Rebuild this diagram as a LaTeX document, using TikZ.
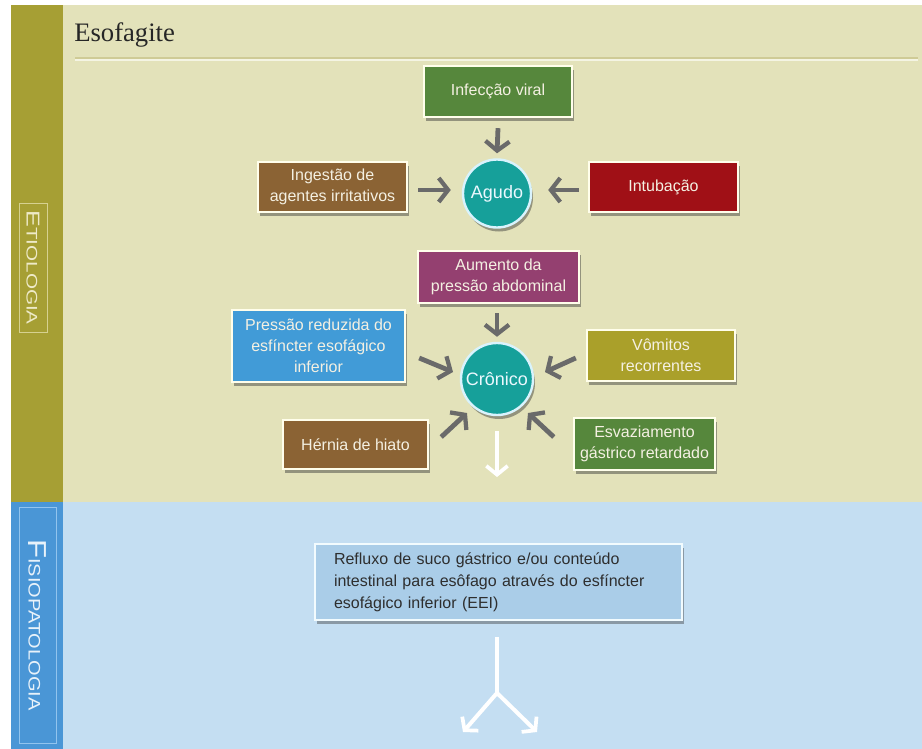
\documentclass[tikz,border=0pt]{standalone}
\usepackage{fontspec}
\usepackage{graphicx}
\setmainfont{Liberation Sans}
\newfontfamily\titlefont{Liberation Serif}
\usetikzlibrary{arrows.meta,shadows,calc}
\definecolor{beigebg}{HTML}{E3E2BA}
\definecolor{olivebar}{HTML}{A69F34}
\definecolor{bluebg}{HTML}{C4DEF2}
\definecolor{bluebar}{HTML}{4A96D6}
\definecolor{titleline}{HTML}{CFCB96}
\definecolor{etioframe}{HTML}{D6D190}
\definecolor{etiotext}{HTML}{EEEAC8}
\definecolor{fisioframe}{HTML}{92C4EE}
\definecolor{fisiotext}{HTML}{E8F2FA}
\definecolor{boxtext}{HTML}{F4F0E2}
\definecolor{cgreen}{HTML}{56873C}
\definecolor{cbrown}{HTML}{8B6334}
\definecolor{cred}{HTML}{A01016}
\definecolor{cpurple}{HTML}{944070}
\definecolor{clblue}{HTML}{419BD7}
\definecolor{colive}{HTML}{AAA02A}
\definecolor{cteal}{HTML}{16A09A}
\definecolor{crefl}{HTML}{AACDE8}
\definecolor{arrowgray}{HTML}{6A6A6A}
\tikzset{
  cbox/.style={draw=white!92!yellow, line width=1.8pt, text=boxtext,
    font=\fontsize{12}{15.75}\selectfont, align=center, inner sep=0pt,
    drop shadow={shadow xshift=1.5pt, shadow yshift=-3pt, opacity=0.45, fill=black!80}},
  ccirc/.style={circle, draw=white!85!cyan, line width=1.8pt, fill=cteal, text=white!92!cyan,
    font=\fontsize{13.5}{16}\selectfont, inner sep=0pt,
    drop shadow={shadow xshift=1.5pt, shadow yshift=-3pt, opacity=0.45, fill=black!80}},
  garr/.style={draw=arrowgray, line width=3.6pt,
    -{Straight Barb[length=7pt, width=18pt, line width=3.2pt]}},
  wline/.style={draw=white, line width=3pt},
  warr/.style={draw=white, line width=3pt,
    -{Straight Barb[length=6.5pt, width=16pt, line width=2.8pt]}},
  sidelabel/.style={rotate=-90, line width=0.6pt, inner sep=0pt}
}
\begin{document}
\begin{tikzpicture}[x=0.75pt, y=-0.75pt]
\useasboundingbox (0,0) rectangle (922,749);
\fill[white] (0,0) rectangle (922,749);
% backgrounds
\fill[beigebg] (63,5) rectangle (922,502);
\fill[olivebar] (11,5) rectangle (63,502);
\fill[bluebg] (63,502) rectangle (922,749);
\fill[bluebar] (11,502) rectangle (63,749);

% title
\node[anchor=base west, inner sep=0pt, text=black!85, font=\titlefont\fontsize{20}{24}\selectfont] (title) at (74,42) {Esofagite};
\draw[titleline, line width=1.2pt] (75,58) -- (918,58);
\draw[white!60!beigebg, line width=0.8pt] (75,60) -- (918,60);

% side labels
\node[sidelabel, draw=etioframe, text=etiotext, minimum width=96.75pt, minimum height=21pt] (etio) at (33,267.5)
  {\scalebox{1.35}[1]{{\fontsize{14}{14}\selectfont E}{\fontsize{11.5}{14}\selectfont TIOLOGIA}}};
\node[sidelabel, draw=fisioframe, text=fisiotext, minimum width=177pt, minimum height=27.75pt] (fisio) at (37.5,625)
  {\scalebox{1.2}[1]{{\fontsize{19.5}{20}\selectfont F}{\fontsize{12.5}{20}\selectfont ISIOPATOLOGIA}}};

% acute
\node[cbox, fill=cgreen, minimum width=111pt, minimum height=38.25pt] (inf) at (498,91.5) {Infecção viral};
\node[cbox, fill=cbrown, minimum width=111.75pt, minimum height=37.5pt] (ing) at (332.5,187) {Ingestão de\\agentes irritativos};
\node[cbox, fill=cred, minimum width=111.75pt, minimum height=37.5pt] (intu) at (663.5,187) {Intubação};
\node[ccirc, minimum size=51pt] (agudo) at (497,193.5) {Agudo};

% chronic
\node[cbox, fill=cpurple, minimum width=120.75pt, minimum height=39pt] (aum) at (498.5,277) {Aumento da\\pressão abdominal};
\node[cbox, fill=clblue, minimum width=129.75pt, minimum height=54pt] (pres) at (318.5,346) {Pressão reduzida do\\esfíncter esofágico\\inferior};
\node[cbox, fill=colive, minimum width=111pt, minimum height=38.25pt] (vom) at (661,355.5) {Vômitos\\recorrentes};
\node[cbox, fill=cbrown, minimum width=108.75pt, minimum height=36.75pt] (hern) at (355.5,444.5) {Hérnia de hiato};
\node[cbox, fill=cgreen, minimum width=105.75pt, minimum height=39pt] (esv) at (644.5,444) {Esvaziamento\\gástrico retardado};
\node[ccirc, minimum size=54pt] (cron) at (497,379) {Crônico};

% pathophysiology
\node[draw=white!95!cyan, line width=1.8pt, fill=crefl, text=black!82,
  font=\fontsize{12}{16.5}\selectfont, align=left, text width=246.75pt, inner xsep=14.25pt,
  inner ysep=0pt, minimum height=57pt,
  drop shadow={shadow xshift=1.5pt, shadow yshift=-3pt, opacity=0.4, fill=black!80}] (refl) at (498.5,582)
  {Refluxo de suco gástrico e/ou conteúdo\\intestinal para esôfago através do esfíncter\\esofágico inferior (EEI)};

% gray arrows
\draw[garr] ($(inf.south)+(0,10)$) -- ($(agudo.north)+(0,-5)$);
\draw[garr] ($(ing.east)+(10,3)$) -- ($(agudo.west)+(-11,-3.5)$);
\draw[garr] ($(intu.west)+(-9,3)$) -- ($(agudo.east)+(16,-3.5)$);
\draw[garr] ($(aum.south)+(-1.5,9)$) -- ($(cron.north)+(0,-5)$);
\draw[garr] ($(pres.east)+(13,12)$) -- ($(cron.center)+(-44,-7)$);
\draw[garr] ($(vom.west)+(-10,2.5)$) -- ($(cron.center)+(48,-7)$);
\draw[garr] ($(hern.east)+(12,-7.5)$) -- ($(cron.center)+(-30,34)$);
\draw[garr] ($(esv.west)+(-19,-7)$) -- ($(cron.center)+(31,34)$);

% white arrows
\coordinate (cdown) at (497,477);
\draw[warr] ($(cron.south)+(0,15)$) -- (cdown);
\coordinate (split) at (497,693);
\coordinate (tipL) at (463,732);
\coordinate (tipR) at (537,732);
\draw[wline] ($(refl.south)+(-1.5,16)$) -- (split);
\draw[warr] (split) -- (tipL);
\draw[warr] (split) -- (tipR);
\end{tikzpicture}
\end{document}
